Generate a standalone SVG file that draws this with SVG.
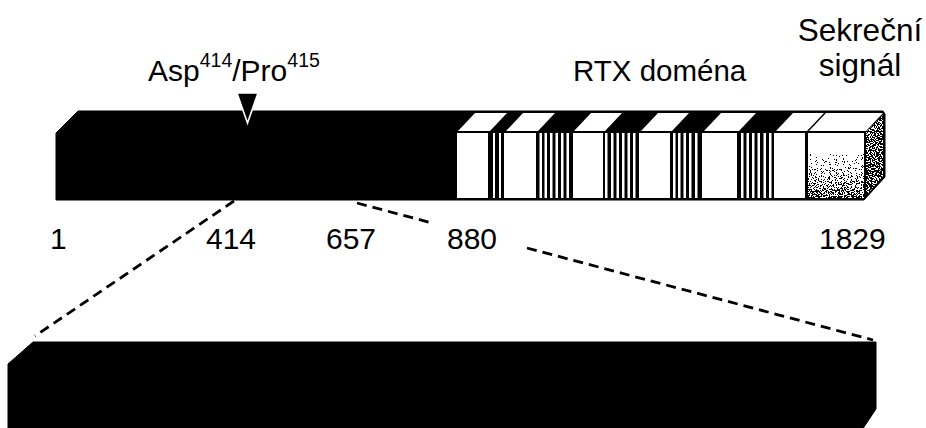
<svg xmlns="http://www.w3.org/2000/svg" width="926" height="428" viewBox="0 0 926 428">
<style>
  .lbl { font-family: "Liberation Sans", Arial, sans-serif; fill: #000; }
  .num { font-family: "Liberation Sans", Arial, sans-serif; font-size: 30px; fill: #000; }
  .wf { fill: #fff; }
  .dash { fill: none; stroke: #000; stroke-width: 2.8; stroke-dasharray: 10 6; }
</style>
<defs>
  <linearGradient id="gGray" x1="0" y1="0" x2="0" y2="1">
    <stop offset="0" stop-color="#e6e6e6"/>
    <stop offset="0.5" stop-color="#a8a8a8"/>
    <stop offset="1" stop-color="#2a2a2a"/>
  </linearGradient>
  <linearGradient id="gSide" x1="0" y1="0" x2="0" y2="1">
    <stop offset="0" stop-color="#3c3c3c"/>
    <stop offset="1" stop-color="#1c1c1c"/>
  </linearGradient>
  <filter id="stipple" x="0" y="0" width="100%" height="100%" color-interpolation-filters="sRGB">
    <feTurbulence type="fractalNoise" baseFrequency="0.85" numOctaves="1" seed="7" result="t"/>
    <feColorMatrix in="t" type="matrix" values="3 0 0 0 -1  3 0 0 0 -1  3 0 0 0 -1  0 0 0 0 1" result="n"/>
    <feComposite in="SourceGraphic" in2="n" operator="arithmetic" k1="0" k2="1" k3="-1" k4="0.5" result="d"/>
    <feComponentTransfer in="d" result="s">
      <feFuncR type="discrete" tableValues="0 1"/>
      <feFuncG type="discrete" tableValues="0 1"/>
      <feFuncB type="discrete" tableValues="0 1"/>
      <feFuncA type="discrete" tableValues="1 1"/>
    </feComponentTransfer>
    <feComposite in="s" in2="SourceAlpha" operator="in"/>
  </filter>
</defs>

<g id="upper-bar">
  <polygon points="56,133 78,111 883,111 885,114 885,177 864,200 56,200" fill="#000" stroke="#000" stroke-width="1" stroke-linejoin="round"/>
</g>

<g id="rtx-domain">
  <rect class="wf" x="457" y="133" width="31" height="65"/>
  <rect class="wf" x="504" y="133" width="32" height="65"/>
  <rect class="wf" x="573" y="133" width="30" height="65"/>
  <rect class="wf" x="639" y="133" width="31" height="65"/>
  <rect class="wf" x="702" y="133" width="35" height="65"/>
  <rect class="wf" x="774" y="133" width="31" height="65"/>
  <polygon class="wf" points="458,131 490,131 507,113 475,113"/>
  <polygon class="wf" points="506,131 538,131 555,113 523,113"/>
  <polygon class="wf" points="574,131 605,131 622,113 591,113"/>
  <polygon class="wf" points="641,131 672,131 689,113 658,113"/>
  <polygon class="wf" points="704,131 739,131 756,113 721,113"/>
  <polygon class="wf" points="776,131 807,131 824,113 793,113"/>
  <rect class="wf" x="493" y="133" width="2" height="65"/>
  <rect class="wf" x="499" y="133" width="2" height="65"/>

  <rect class="wf" x="539.5" y="133" width="2.5" height="65"/>
  <rect class="wf" x="544.5" y="133" width="2.5" height="65"/>
  <rect class="wf" x="550" y="133" width="2.5" height="65"/>
  <rect class="wf" x="555.5" y="133" width="2.5" height="65"/>
  <rect class="wf" x="561" y="133" width="2.5" height="65"/>
  <rect class="wf" x="566.5" y="133" width="2.5" height="65"/>

  <rect class="wf" x="605" y="133" width="2.5" height="65"/>
  <rect class="wf" x="611" y="133" width="2.5" height="65"/>
  <rect class="wf" x="616.5" y="133" width="2.5" height="65"/>
  <rect class="wf" x="622" y="133" width="2.5" height="65"/>
  <rect class="wf" x="627.5" y="133" width="2.5" height="65"/>
  <rect class="wf" x="633" y="133" width="2.5" height="65"/>

  <rect class="wf" x="673" y="133" width="2.5" height="65"/>
  <rect class="wf" x="678" y="133" width="2.5" height="65"/>
  <rect class="wf" x="683.5" y="133" width="2.5" height="65"/>
  <rect class="wf" x="689" y="133" width="2.5" height="65"/>
  <rect class="wf" x="695" y="133" width="2.5" height="65"/>

  <rect class="wf" x="741" y="133" width="2.5" height="65"/>
  <rect class="wf" x="746.5" y="133" width="2.5" height="65"/>
  <rect class="wf" x="752" y="133" width="2.5" height="65"/>
  <rect class="wf" x="757.5" y="133" width="2.5" height="65"/>
  <rect class="wf" x="763.5" y="133" width="2.5" height="65"/>
  <rect class="wf" x="769" y="133" width="2.5" height="65"/>
</g>

<g id="secretion-signal">
  <polygon class="wf" points="809,131 866,131 883,113 826,113"/>
  <rect x="808" y="133" width="56" height="65" fill="url(#gGray)" filter="url(#stipple)"/>
  <polygon points="866,132 883,115 883,176 866,196" fill="url(#gSide)" filter="url(#stipple)"/>
</g>

<g id="cleavage-marker">
  <polygon points="237,93 258,93 247.5,123" fill="#000" stroke="#fff" stroke-width="1.6" stroke-linejoin="miter"/>
</g>

<g id="lower-bar">
  <polygon points="33,342 876,342 876,409 862,430 8,430 8,364" fill="#000" stroke="#000" stroke-width="1" stroke-linejoin="round"/>
</g>

<g id="connectors">
  <line class="dash" x1="234" y1="201" x2="35" y2="336"/>
  <line class="dash" x1="357" y1="203" x2="434" y2="223.5"/>
  <line class="dash" x1="527" y1="248" x2="873" y2="340"/>
</g>

<g id="labels">
  <text class="lbl" x="148" y="81" font-size="30">Asp<tspan font-size="19.5" dy="-14">414</tspan><tspan dy="14">/Pro</tspan><tspan font-size="19.5" dy="-14">415</tspan></text>
  <text class="lbl" x="573" y="81" font-size="29.5">RTX doména</text>
  <text class="lbl" x="860" y="41" font-size="31.5" text-anchor="middle">Sekreční</text>
  <text class="lbl" x="860" y="76" font-size="31.5" text-anchor="middle">signál</text>
  <text class="num" x="50" y="249">1</text>
  <text class="num" x="206" y="249">414</text>
  <text class="num" x="326" y="249">657</text>
  <text class="num" x="447" y="249">880</text>
  <text class="num" x="819" y="249">1829</text>
</g>
</svg>
